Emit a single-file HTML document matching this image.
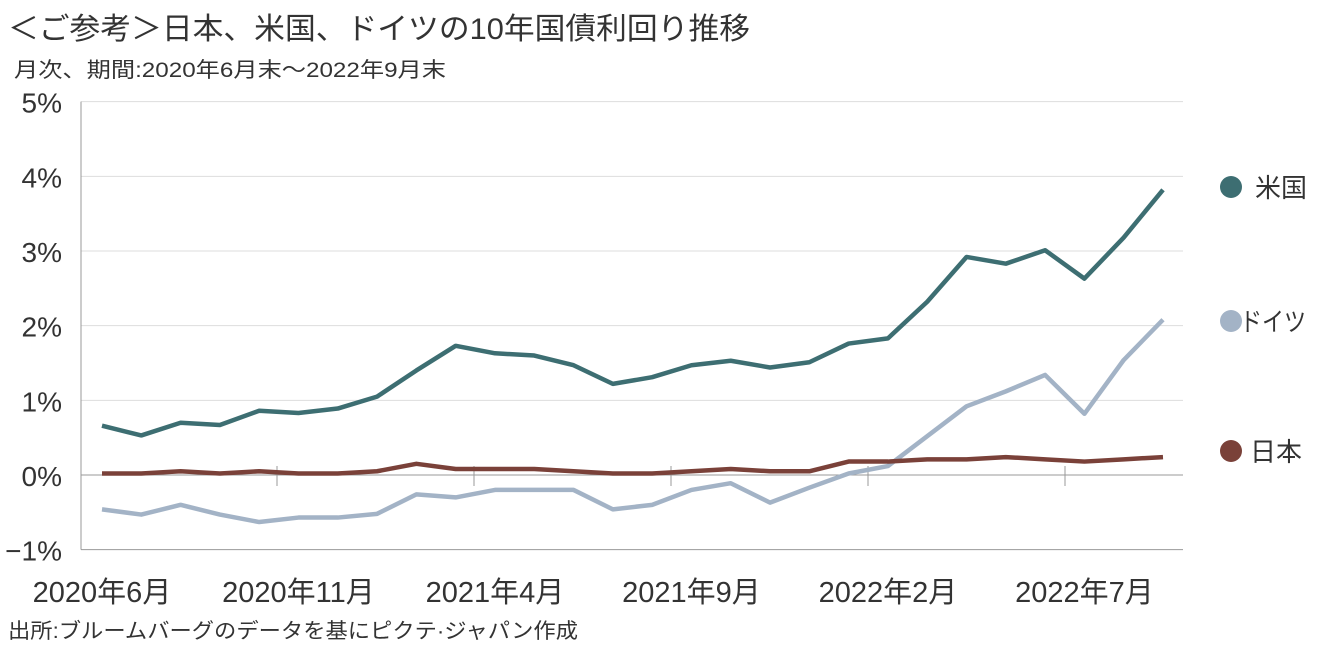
<!DOCTYPE html>
<html><head><meta charset="utf-8"><style>
body{margin:0;background:#fff;width:1326px;height:649px;overflow:hidden}
svg{display:block}
text{font-family:"Liberation Sans Narrow","Liberation Sans","Noto Sans CJK JP",sans-serif;fill:#333}
.cj{font-family:"Liberation Sans","Noto Sans CJK JP",sans-serif}
</style></head><body>
<svg id="chart" width="1326" height="649">
<text x="8" y="39" font-size="30" class="cj" textLength="742" lengthAdjust="spacingAndGlyphs">＜ご参考＞日本、米国、ドイツの10年国債利回り推移</text>
<text x="14" y="77" font-size="21" class="cj" textLength="432" lengthAdjust="spacingAndGlyphs">月次、期間:2020年6月末～2022年9月末</text>
<text x="8" y="638" font-size="21" class="cj" textLength="570" lengthAdjust="spacingAndGlyphs">出所:ブルームバーグのデータを基にピクテ·ジャパン作成</text>
<g id="grid"></g><g id="series"></g><g id="legend"></g>
</svg>
<script>
const months = 28;
const yTicks = [-1,0,1,2,3,4,5];
const yTickLabels = ["−1%","0%","1%","2%","3%","4%","5%"];
const xTickIdx = [0,5,10,15,20,25];
const xTickLabels = ["2020年6月","2020年11月","2021年4月","2021年9月","2022年2月","2022年7月"];
const us = [0.66,0.53,0.70,0.67,0.86,0.83,0.89,1.05,1.40,1.73,1.63,1.60,1.47,1.22,1.31,1.47,1.53,1.44,1.51,1.76,1.83,2.32,2.92,2.83,3.01,2.63,3.18,3.82];
const de = [-0.46,-0.53,-0.40,-0.53,-0.63,-0.57,-0.57,-0.52,-0.26,-0.30,-0.20,-0.20,-0.20,-0.46,-0.40,-0.20,-0.11,-0.37,-0.17,0.02,0.12,0.52,0.92,1.12,1.34,0.82,1.54,2.08];
const jp = [0.02,0.02,0.05,0.02,0.05,0.02,0.02,0.05,0.15,0.08,0.08,0.08,0.05,0.02,0.02,0.05,0.08,0.05,0.05,0.18,0.18,0.21,0.21,0.24,0.21,0.18,0.21,0.24];
const seriesNames = ["米国","ドイツ","日本"];

const NS="http://www.w3.org/2000/svg";
const X=i=>102+i*(1163-102)/(months-1);
const Y=v=>475-v*74.67;
function mk(t,a,p){const e=document.createElementNS(NS,t);for(const k in a)e.setAttribute(k,a[k]);p.appendChild(e);return e;}
const g=document.getElementById('grid');
yTicks.forEach((v,i)=>{
  const l=mk('line',{x1:81,x2:1183,y1:Y(v),y2:Y(v),stroke:v===0||v===-1?'#999':'#ddd','stroke-width':1},g);
  
  
  const t=mk('text',{x:62,y:Y(v)+11,'font-size':28,'text-anchor':'end'},g);
  t.textContent=yTickLabels[i];
  
  
});
const ax=mk('line',{x1:81,x2:81,y1:Y(5),y2:Y(-1),stroke:'#999'},g);


[277,474,671,868,1065].forEach(x=>{
  const tk=mk('line',{x1:x,x2:x,y1:466,y2:486,stroke:'#999'},g);
  
  
});
xTickIdx.forEach((idx,i)=>{
  const t=mk('text',{x:X(idx),y:602,'font-size':29,'text-anchor':'middle'},g);
  t.textContent=xTickLabels[i];
  
  
});
const s=document.getElementById('series');
[[de,'#a3b3c6','line-germany'],[jp,'#7a4139','line-japan'],[us,'#3d6e72','line-us']].forEach(([d,c,n])=>{
  const p=mk('polyline',{points:d.map((v,i)=>X(i)+','+Y(v)).join(' '),fill:'none',stroke:c,'stroke-width':4.5,'stroke-linejoin':'round'},s);
  
  
});
const lg=document.getElementById('legend');
[[187,'#3d6e72',0,1255,52],[321,'#a3b3c6',1,1240,66],[451,'#7a4139',2,1250,52]].forEach(([y,c,i,tx,w])=>{
  const ci=mk('circle',{cx:1231,cy:y,r:11,fill:c},lg);
  
  
  const t=mk('text',{x:tx,y:y+10,'font-size':26,class:'cj',textLength:w,lengthAdjust:'spacingAndGlyphs'},lg);
  t.textContent=seriesNames[i];
  
  
});
</script>
</body></html>
